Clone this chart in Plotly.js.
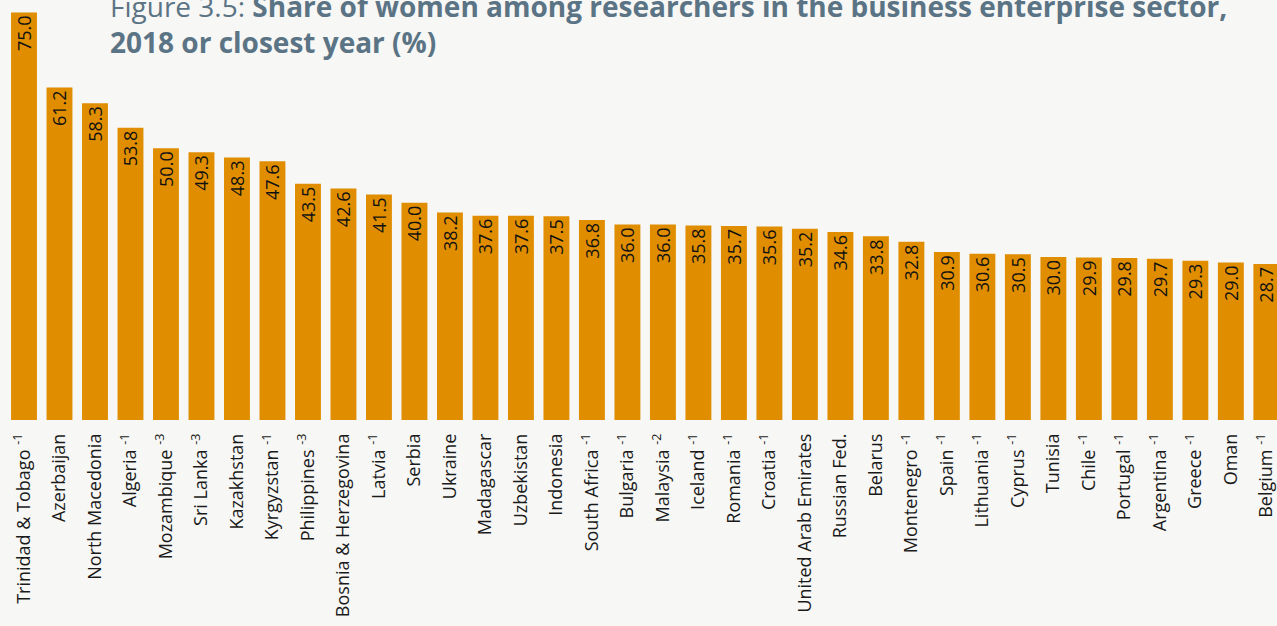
<!DOCTYPE html>
<html>
<head>
<meta charset="utf-8">
<script src="https://cdn.plot.ly/plotly-3.0.1.min.js"></script>
<style>
html,body{margin:0;padding:0;background:#f7f7f5;}
#chart{width:1277px;height:626px;}
</style>
</head>
<body>
<div id="chart"></div>
<script>
const countries = ["Trinidad & Tobago","Azerbaijan","North Macedonia","Algeria","Mozambique","Sri Lanka","Kazakhstan","Kyrgyzstan","Philippines","Bosnia & Herzegovina","Latvia","Serbia","Ukraine","Madagascar","Uzbekistan","Indonesia","South Africa","Bulgaria","Malaysia","Iceland","Romania","Croatia","United Arab Emirates","Russian Fed.","Belarus","Montenegro","Spain","Lithuania","Cyprus","Tunisia","Chile","Portugal","Argentina","Greece","Oman","Belgium"];
const yearNotes = ["-1","","","-1","-3","-3","","-1","-3","","-1","","","","","","-1","-1","-2","-1","-1","-1","","","","-1","-1","-1","-1","","-1","-1","-1","-1","","-1"];
const shares = [75.0,61.2,58.3,53.8,50.0,49.3,48.3,47.6,43.5,42.6,41.5,40.0,38.2,37.6,37.6,37.5,36.8,36.0,36.0,35.8,35.7,35.6,35.2,34.6,33.8,32.8,30.9,30.6,30.5,30.0,29.9,29.8,29.7,29.3,29.0,28.7];
const titleLine1 = "Figure 3.5: <b>Share of women among researchers in the business enterprise sector,</b>";
const titleLine2 = "<b>2018 or closest year (%)</b>";

const idx = countries.map((c,i)=>i);
const tickText = countries.map((c,i)=> yearNotes[i] ? c + " <sup>" + yearNotes[i] + "</sup>" : c);

const trace = {
  type: "bar",
  x: idx,
  y: shares,
  marker: {color: "#e08e00"},
  text: shares.map(v=>v.toFixed(1)),
  texttemplate: "%{text}",
  textposition: "inside",
  insidetextanchor: "end",
  textangle: -90,
  constraintext: "none",
  textfont: {family: "Open Sans", size: 18, color: "#111111"},
  hoverinfo: "none",
  cliponaxis: false
};

const W = 1277;
const layout = {
  width: 1277, height: 626,
  paper_bgcolor: "#f7f7f5",
  plot_bgcolor: "#f7f7f5",
  margin: {l: 0, r: 0, t: 0, b: 206},
  bargap: 0.27,
  showlegend: false,
  font: {family: "Open Sans", color: "#1a1a1a"},
  xaxis: {
    range: [-0.676, 35.3],
    tickmode: "array",
    tickvals: idx,
    ticktext: tickText,
    tickangle: -90,
    tickfont: {family: "Open Sans", size: 18, color: "#1a1a1a"},
    ticks: "",
    showline: false,
    showgrid: false,
    zeroline: false,
    ticklabelstandoff: 9,
    ticklabeloverflow: "allow",
    fixedrange: true
  },
  yaxis: {
    range: [0, 77.3],
    visible: false,
    showgrid: false,
    zeroline: false,
    fixedrange: true
  },
  annotations: [
    {text: titleLine1, xref: "paper", yref: "paper", x: 108/W, y: 1 - 6/420, xanchor: "left", yanchor: "middle", showarrow: false, align: "left",
     font: {family: "Open Sans", size: 28, color: "#5b7485"}},
    {text: titleLine2, xref: "paper", yref: "paper", x: 108/W, y: 1 - 42/420, xanchor: "left", yanchor: "middle", showarrow: false, align: "left",
     font: {family: "Open Sans", size: 28, color: "#5b7485"}}
  ]
};

Plotly.newPlot("chart", [trace], layout, {displayModeBar: false, staticPlot: true});
</script>
</body>
</html>
